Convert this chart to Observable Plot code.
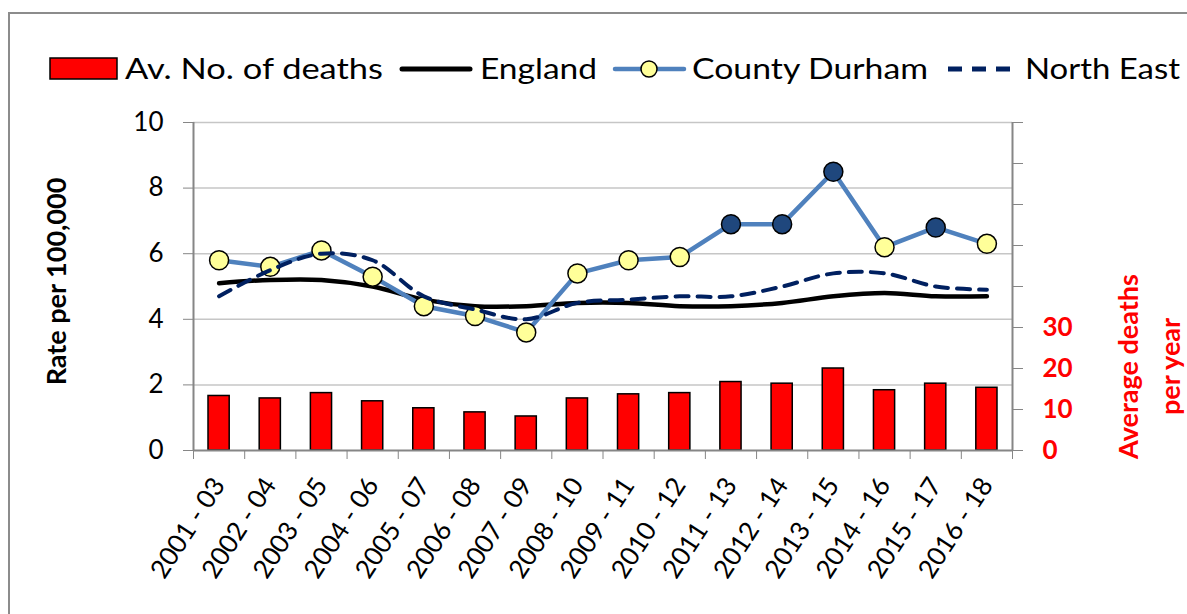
<!DOCTYPE html>
<html><head><meta charset="utf-8">
<script src="https://cdn.jsdelivr.net/npm/d3@7"></script>
<script src="https://cdn.jsdelivr.net/npm/@observablehq/plot@0.6"></script>
<style>
html,body{margin:0;padding:0;background:#fff;overflow:hidden}
#wrap{position:relative;width:1187px;height:614px;font-family:Lato,sans-serif}
#border{position:absolute;left:8px;top:12px;width:1300px;height:700px;border-left:2px solid #8c8c8c;border-top:2px solid #8c8c8c}
#legend{position:absolute;left:0;top:0}
#chart{position:absolute;left:0;top:0}
</style></head><body>
<div id="wrap"><div id="border"></div><div id="chart"></div>
<svg id="legend" width="1187" height="100" style="font-family:Lato,sans-serif;font-size:29px">
  <rect x="50" y="58" width="67" height="21" fill="#ff0000" stroke="#000" stroke-width="1.5"></rect>
  <text x="125" y="79" textLength="258" lengthAdjust="spacingAndGlyphs">Av. No. of deaths</text>
  <line x1="402" x2="470" y1="69" y2="69" stroke="#000" stroke-width="5" stroke-linecap="round"></line>
  <text x="480" y="79" textLength="117" lengthAdjust="spacingAndGlyphs">England</text>
  <line x1="615" x2="684" y1="69" y2="69" stroke="#4f81bd" stroke-width="4.5" stroke-linecap="round"></line>
  <circle cx="649" cy="69" r="8" fill="#ffff99" stroke="#000" stroke-width="1.5"></circle>
  <text x="692" y="79" textLength="236" lengthAdjust="spacingAndGlyphs">County Durham</text>
  <line x1="948" x2="1010" y1="69" y2="69" stroke="#002060" stroke-width="5" stroke-dasharray="14,10"></line>
  <text x="1025" y="79" textLength="155" lengthAdjust="spacingAndGlyphs">North East</text>
</svg>
</div>
<script>
const periods = ["2001 - 03","2002 - 04","2003 - 05","2004 - 06","2005 - 07","2006 - 08","2007 - 09","2008 - 10","2009 - 11","2010 - 12","2011 - 13","2012 - 14","2013 - 15","2014 - 16","2015 - 17","2016 - 18"];
const countyDurham = [5.8, 5.6, 6.1, 5.3, 4.4, 4.1, 3.6, 5.4, 5.8, 5.9, 6.9, 6.9, 8.5, 6.2, 6.8, 6.3];
const england = [5.1, 5.2, 5.2, 5.0, 4.6, 4.4, 4.4, 4.5, 4.5, 4.4, 4.4, 4.5, 4.7, 4.8, 4.7, 4.7];
const northEast = [4.7, 5.5, 6.0, 5.8, 4.7, 4.3, 4.0, 4.5, 4.6, 4.7, 4.7, 5.0, 5.4, 5.4, 5.0, 4.9];
const avgDeaths = [13.3, 12.7, 14.0, 12.0, 10.3, 9.3, 8.3, 12.7, 13.7, 14.0, 16.7, 16.3, 20.0, 14.7, 16.3, 15.3];
const durhamHigher = [false,false,false,false,false,false,false,false,false,false,true,true,true,false,true,false];
const leftTicks = [0, 2, 4, 6, 8, 10];
const rightTicks = [0, 10, 20, 30, 40, 50, 60, 70, 80];
const rightTickLabels = ["0", "10", "20", "30"];
const leftMax = 10, rightMax = 80;

const rows = periods.map((p, i) => ({
  i, period: p,
  durham: countyDurham[i], england: england[i], ne: northEast[i],
  deaths: avgDeaths[i], deathsScaled: avgDeaths[i] * leftMax / rightMax,
  high: durhamHigher[i]
}));

const chart = Plot.plot({
  width: 1187, height: 614,
  marginTop: 122, marginBottom: 164, marginLeft: 193, marginRight: 175,
  style: {fontFamily: "Lato, sans-serif", fontSize: "26px", background: "transparent", overflow: "visible"},
  x: {type: "linear", domain: [-0.5, periods.length - 0.5]},
  y: {domain: [0, leftMax]},
  marks: [
    Plot.gridY(leftTicks.slice(1), {stroke: "#c6c6c6", strokeOpacity: 1, strokeWidth: 1.5}),
    Plot.rectY(rows, {x1: d => d.i - 0.5, x2: d => d.i + 0.5, y1: 0, y2: "deathsScaled", insetLeft: 15, insetRight: 15, fill: "#ff0000", stroke: "#000", strokeWidth: 1.5}),
    Plot.ruleY([0], {stroke: "#868686", strokeWidth: 2}),
    Plot.ruleX([-0.5, periods.length - 0.5], {stroke: "#868686", strokeWidth: 2}),
    Plot.axisY({ticks: leftTicks, tickSize: 10, tickPadding: 20, stroke: "#868686", fill: "#000", label: null, fontSize: 26}),
    Plot.axisY({anchor: "right", ticks: rightTicks.map(v => v * leftMax / rightMax),
      tickFormat: v => { const d = String(Math.round(v * rightMax / leftMax)); return rightTickLabels.includes(d) ? d : ""; },
      tickSize: 10, tickPadding: 20, stroke: "#868686", fill: "#ff0000", fontWeight: "bold", fontSize: 26, label: null}),
    Plot.axisX({ticks: d3.range(-0.5, periods.length, 1), tickFormat: () => "", tickSize: 9, stroke: "#868686", label: null}),
    Plot.axisX({ticks: d3.range(0, periods.length), tickFormat: i => periods[i], tickSize: 0, tickPadding: 30, tickRotate: -57, fill: "#000", fontSize: 26, label: null}),
    Plot.line(rows, {x: "i", y: "england", stroke: "#000", strokeWidth: 4.5, curve: "catmull-rom", strokeLinecap: "round"}),
    Plot.line(rows, {x: "i", y: "durham", stroke: "#4f81bd", strokeWidth: 4.5, strokeLinecap: "round"}),
    Plot.dot(rows, {x: "i", y: "durham", r: 9.5, fill: d => d.high ? "#1f477d" : "#ffff99", stroke: "#000", strokeWidth: 1.5}),
    Plot.line(rows, {x: "i", y: "ne", stroke: "#002060", strokeWidth: 4, strokeDasharray: "13,9", curve: "catmull-rom"}),
    Plot.text(["Rate per 100,000"], {frameAnchor: "left", dx: -136, dy: -5, rotate: -90, textAnchor: "middle", fontWeight: "bold", fontSize: 27, fill: "#000"}),
    Plot.text(["Average deaths\nper year"], {frameAnchor: "right", dx: 133, dy: 80, rotate: -90, textAnchor: "middle", fontWeight: "bold", fontSize: 27, fill: "#ff0000", lineHeight: 1.55})
  ]
});
document.getElementById("chart").appendChild(chart);
</script>
</body></html>
